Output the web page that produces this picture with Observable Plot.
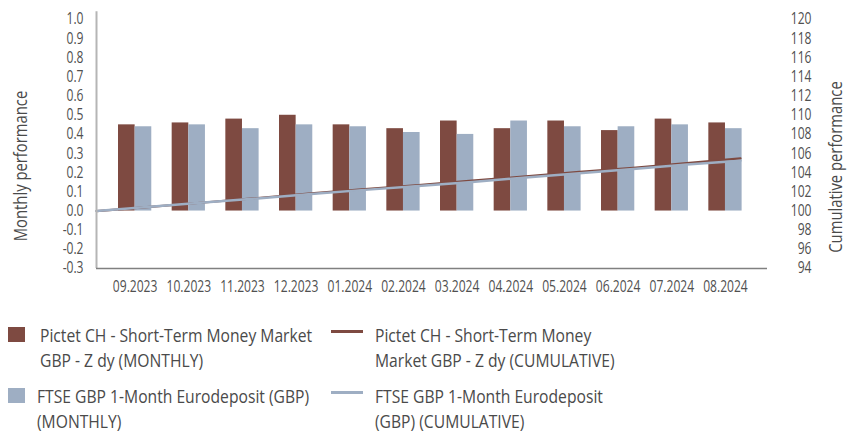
<!DOCTYPE html>
<html>
<head>
<meta charset="utf-8">
<script src="https://cdn.jsdelivr.net/npm/d3@7"></script>
<script src="https://cdn.jsdelivr.net/npm/@observablehq/plot@0.6"></script>
<style>
  html, body { margin: 0; padding: 0; background: #fff; }
  #wrap { position: relative; width: 849px; height: 434px; overflow: hidden;
          font-family: 'Open Sans', sans-serif; color: #4a4a4a; }
  #chart svg { display: block; }
  .sw { position: absolute; }
  .lt { position: absolute; font-size: 18px; line-height: 25px; white-space: nowrap;
        transform: scaleX(0.87); transform-origin: left top; }
</style>
</head>
<body>
<div id="wrap">
  <div id="chart"></div>
  <div id="legend"></div>
</div>
<script>
// ---- data ----
const months = ["09.2023","10.2023","11.2023","12.2023","01.2024","02.2024","03.2024","04.2024","05.2024","06.2024","07.2024","08.2024"];
const pictetMonthly = [0.45,0.46,0.48,0.50,0.45,0.43,0.47,0.43,0.47,0.42,0.48,0.46];
const ftseMonthly   = [0.44,0.45,0.43,0.45,0.44,0.41,0.40,0.47,0.44,0.44,0.45,0.43];
// cumulative: starting point (100) plus one value per month
const pictetCumulative = [100,100.44,100.89,101.36,101.85,102.29,102.72,103.19,103.62,104.09,104.51,105.01,105.50];
const ftseCumulative   = [100,100.44,100.89,101.32,101.77,102.21,102.62,103.03,103.50,103.95,104.40,104.86,105.25];
const monthlyTicks = [-0.3,-0.2,-0.1,0.0,0.1,0.2,0.3,0.4,0.5,0.6,0.7,0.8,0.9,1.0];
const cumulativeTicks = [94,96,98,100,102,104,106,108,110,112,114,116,118,120];

const seriesNames = {
  pictetM: "Pictet CH - Short-Term Money Market<br>GBP - Z dy (MONTHLY)",
  pictetC: "Pictet CH - Short-Term Money<br>Market GBP - Z dy (CUMULATIVE)",
  ftseM: "FTSE GBP 1-Month Eurodeposit (GBP)<br>(MONTHLY)",
  ftseC: "FTSE GBP 1-Month Eurodeposit<br>(GBP) (CUMULATIVE)"
};

// ---- styles ----
const BROWN = "#7e4a41";
const BLUE = "#9eaec3";
const off = 0.72;   // group centre offset within a month slot
const barW = 0.31;  // bar width in slot units
const SX = 0.78;    // horizontal condensing of chart text

// right axis (94..120) mapped onto left axis (-0.3..1.0)
const toY = v => (v - 100) * 0.05;

const barsP = pictetMonthly.map((v, i) => ({i, v}));
const barsF = ftseMonthly.map((v, i) => ({i, v}));
const lineP = pictetCumulative.map((v, i) => ({i, v}));
const lineF = ftseCumulative.map((v, i) => ({i, v}));

const chart = Plot.plot({
  width: 849,
  height: 305,
  marginLeft: 96,
  marginRight: 82,
  marginTop: 19,
  marginBottom: 37,
  style: {fontFamily: "'Open Sans', sans-serif", fontSize: "15.5px", color: "#505050", background: "#fff"},
  x: {type: "linear", domain: [0, 12], range: [96, 740]},
  y: {domain: [-0.3, 1.0]},
  marks: [
    Plot.rectY(barsP, {x1: d => d.i + off - barW, x2: d => d.i + off, y: "v", fill: BROWN}),
    Plot.rectY(barsF, {x1: d => d.i + off, x2: d => d.i + off + barW, y: "v", fill: BLUE}),
    Plot.line(lineP, {x: "i", y: d => toY(d.v), stroke: BROWN, strokeWidth: 2.2}),
    Plot.line(lineF, {x: "i", y: d => toY(d.v), stroke: BLUE, strokeWidth: 2.5}),
    Plot.ruleX([0], {y1: -0.3, y2: 1.04, stroke: "#b5b5b5", strokeWidth: 2}),
    Plot.ruleY([-0.3], {stroke: "#808080", strokeWidth: 1.3}),
    Plot.axisY({ticks: monthlyTicks, tickFormat: d => d.toFixed(1), tickSize: 0, tickPadding: 13, label: null}),
    Plot.text(cumulativeTicks, {y: d => toY(d), text: d => String(d), frameAnchor: "right", textAnchor: "end", dx: 44, fill: "#505050"}),
    Plot.axisX({ticks: months.map((m, i) => i + off), tickFormat: d => months[Math.round(d - off)], tickSize: 0, tickPadding: 12, label: null}),
    Plot.text(["Monthly performance"], {frameAnchor: "left", textAnchor: "middle", rotate: -90, dx: -76, dy: 22, fontSize: 19, fill: "#4a4a4a"}),
    Plot.text(["Cumulative performance"], {frameAnchor: "right", textAnchor: "middle", rotate: -90, dx: 68, dy: 23, fontSize: 19, fill: "#4a4a4a"})
  ]
});
document.getElementById("chart").appendChild(chart);

// condense all chart text horizontally (narrow typeface look)
d3.select(chart).selectAll("text").each(function() {
  const t = this.getAttribute("transform");
  if (t) {
    this.setAttribute("transform", t + ` scale(${SX},1)`);
  } else {
    const x = +(this.getAttribute("x") || 0), y = +(this.getAttribute("y") || 0);
    this.removeAttribute("x"); this.removeAttribute("y");
    this.setAttribute("transform", `translate(${x},${y}) scale(${SX},1)`);
  }
});

// ---- legend ----
const legendItems = [
  {kind: "square", color: BROWN, sx: 8,   sy: 327, tx: 40,  ty: 323, text: seriesNames.pictetM},
  {kind: "line",   color: BROWN, sx: 331, sy: 330, tx: 375, ty: 323, text: seriesNames.pictetC},
  {kind: "square", color: BLUE,  sx: 8,   sy: 388, tx: 37,  ty: 384, text: seriesNames.ftseM},
  {kind: "line",   color: BLUE,  sx: 331, sy: 391, tx: 375, ty: 384, text: seriesNames.ftseC}
];
const leg = document.getElementById("legend");
for (const it of legendItems) {
  const s = document.createElement("div");
  s.className = "sw";
  s.style.left = it.sx + "px";
  s.style.top = it.sy + "px";
  s.style.background = it.color;
  if (it.kind === "square") { s.style.width = "17px"; s.style.height = "15px"; }
  else { s.style.width = "32px"; s.style.height = "3px"; }
  leg.appendChild(s);
  const t = document.createElement("div");
  t.className = "lt";
  t.style.left = it.tx + "px";
  t.style.top = it.ty + "px";
  t.innerHTML = it.text;
  leg.appendChild(t);
}
</script>
</body>
</html>
